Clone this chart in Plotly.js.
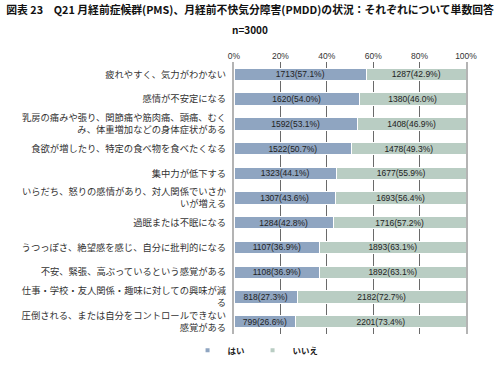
<!DOCTYPE html>
<html>
<head>
<meta charset="utf-8">
<script src="https://cdn.plot.ly/plotly-3.0.1.min.js"></script>
<style>body{margin:0;padding:0;background:#fff}#chart{width:500px;height:377px}</style>
</head>
<body>
<div id="chart"></div>
<script>
const categories = [
  "疲れやすく、気力がわかない",
  "感情が不安定になる",
  "乳房の痛みや張り、関節痛や筋肉痛、頭痛、むくみ、体重増加などの身体症状がある",
  "食欲が増したり、特定の食べ物を食べたくなる",
  "集中力が低下する",
  "いらだち、怒りの感情があり、対人関係でいさかいが増える",
  "過眠または不眠になる",
  "うつっぽさ、絶望感を感じ、自分に批判的になる",
  "不安、緊張、高ぶっているという感覚がある",
  "仕事・学校・友人関係・趣味に対しての興味が減る",
  "圧倒される、または自分をコントロールできない感覚がある"
];
const tickLabels = [
  "疲れやすく、気力がわかない",
  "感情が不安定になる",
  "乳房の痛みや張り、関節痛や筋肉痛、頭痛、むく<br>み、体重増加などの身体症状がある",
  "食欲が増したり、特定の食べ物を食べたくなる",
  "集中力が低下する",
  "いらだち、怒りの感情があり、対人関係でいさか<br>いが増える",
  "過眠または不眠になる",
  "うつっぽさ、絶望感を感じ、自分に批判的になる",
  "不安、緊張、高ぶっているという感覚がある",
  "仕事・学校・友人関係・趣味に対しての興味が減<br>る",
  "圧倒される、または自分をコントロールできない<br>感覚がある"
];
const yesCount = [1713, 1620, 1592, 1522, 1323, 1307, 1284, 1107, 1108, 818, 799];
const yesPct   = [57.1, 54.0, 53.1, 50.7, 44.1, 43.6, 42.8, 36.9, 36.9, 27.3, 26.6];
const noCount  = [1287, 1380, 1408, 1478, 1677, 1693, 1716, 1893, 1892, 2182, 2201];
const noPct    = [42.9, 46.0, 46.9, 49.3, 55.9, 56.4, 57.2, 63.1, 63.1, 72.7, 73.4];
const seriesNames = ["はい", "いいえ"];
const xTickVals = [0, 0.2, 0.4, 0.6, 0.8, 1.0];
const xTickText = ["0%", "20%", "40%", "60%", "80%", "100%"];
const titleText = "図表 23　Q21 月経前症候群(PMS)、月経前不快気分障害(PMDD)の状況：それぞれについて単数回答";
const subtitleText = "n=3000";

const colors = ["#8fa5c1", "#b9cdc3"];
const lbl = (c, p) => c.map((v, i) => v + "(" + p[i].toFixed(1) + "%)");

const common = {
  type: "bar", orientation: "h", y: categories,
  textposition: "inside", insidetextanchor: "middle", constraintext: "none", textangle: 0,
  textfont: {family: "Arial, Liberation Sans, sans-serif", size: 8.5, color: "#222"},
  hoverinfo: "none", showlegend: false, cliponaxis: false
};
const traces = [
  Object.assign({}, common, {x: yesPct.map(v => v / 100), text: lbl(yesCount, yesPct), name: seriesNames[0],
    marker: {color: colors[0], line: {color: "#fff", width: 1}}}),
  Object.assign({}, common, {x: noPct.map(v => v / 100), text: lbl(noCount, noPct), name: seriesNames[1],
    marker: {color: colors[1], line: {color: "#fff", width: 1}}}),
  {type: "scatter", mode: "markers", x: [null], y: [null], name: seriesNames[0],
    marker: {symbol: "square", size: 4, color: colors[0]}, showlegend: true, hoverinfo: "none"},
  {type: "scatter", mode: "markers", x: [null], y: [null], name: seriesNames[1],
    marker: {symbol: "square", size: 4, color: colors[1]}, showlegend: true, hoverinfo: "none"}
];

const layout = {
  width: 500, height: 377,
  margin: {l: 234, r: 34, t: 62, b: 39},
  paper_bgcolor: "#fff", plot_bgcolor: "#fff",
  barmode: "stack", bargap: 0.5,
  font: {family: "Noto Sans CJK JP, sans-serif", color: "#333"},
  title: {
    text: titleText,
    font: {family: "Noto Sans CJK JP, sans-serif", size: 10.8, color: "#111", weight: 700},
    x: 0.5, xanchor: "center", xref: "container", y: 1 - 10 / 377, yref: "container", yanchor: "middle"
  },
  annotations: [{
    text: subtitleText, xref: "paper", yref: "paper", x: 0.069, xanchor: "center",
    y: 1 + 33 / 276, yanchor: "middle", showarrow: false,
    font: {family: "Noto Sans CJK JP, sans-serif", size: 10, color: "#111", weight: 700}
  }],
  xaxis: {
    side: "top", range: [0, 1], tickvals: xTickVals, ticktext: xTickText,
    showgrid: true, gridcolor: "#6a6a6a", gridwidth: 1, zeroline: false,
    showline: false, ticks: "",
    tickfont: {family: "Arial, Liberation Sans, sans-serif", size: 8.5, color: "#333"},
    fixedrange: true
  },
  yaxis: {
    type: "category", autorange: "reversed",
    tickvals: categories, ticktext: tickLabels,
    showline: true, mirror: true, linecolor: "#b4b4b4", linewidth: 2,
    showgrid: false, zeroline: false, ticks: "",
    ticklabelstandoff: 4,
    tickfont: {family: "Noto Sans CJK JP, sans-serif", size: 9.3, color: "#333"},
    fixedrange: true
  },
  legend: {
    orientation: "h", x: 0.08, xanchor: "center", y: -0.06, yanchor: "middle",
    traceorder: "normal", entrywidth: 20,
    font: {family: "Noto Sans CJK JP, sans-serif", size: 8.5, color: "#222", weight: 700},
    itemwidth: 30, tracegroupgap: 0
  },
  showlegend: true
};

Plotly.newPlot("chart", traces, layout, {displayModeBar: false, staticPlot: true});
</script>
</body>
</html>
